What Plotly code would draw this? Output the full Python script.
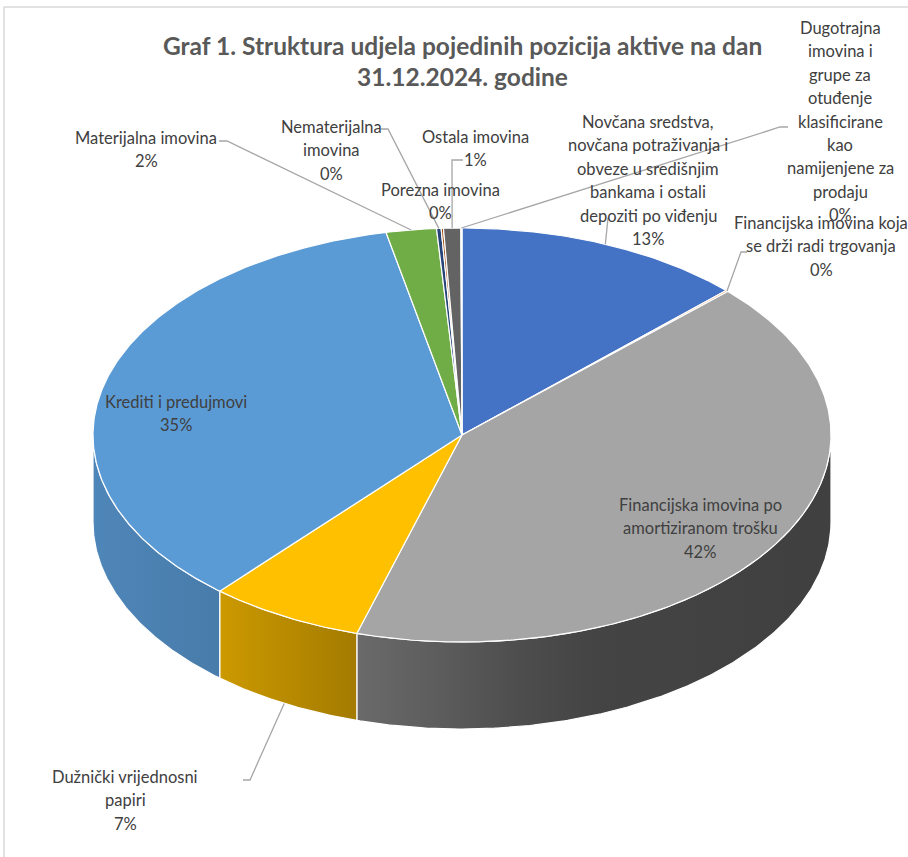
import numpy as np
import plotly.graph_objects as go

# ---------------- data ----------------
categories = [
    "Novčana sredstva, novčana potraživanja i obveze u središnjim bankama i ostali depoziti po viđenju",
    "Financijska imovina koja se drži radi trgovanja",
    "Financijska imovina po amortiziranom trošku",
    "Dužnički vrijednosni papiri",
    "Krediti i predujmovi",
    "Materijalna imovina",
    "Nematerijalna imovina",
    "Porezna imovina",
    "Ostala imovina",
    "Dugotrajna imovina i grupe za otuđenje klasificirane kao namijenjene za prodaju",
]
values = [12.7, 0.1, 41.8, 6.8, 35.3, 2.2, 0.2, 0.1, 0.75, 0.05]
label_lines = [
    ["Novčana sredstva,", "novčana potraživanja i", "obveze u središnjim", "bankama i ostali", "depoziti po viđenju"],
    ["Financijska imovina koja", "se drži radi trgovanja"],
    ["Financijska imovina po", "amortiziranom trošku"],
    ["Dužnički vrijednosni", "papiri"],
    ["Krediti i predujmovi"],
    ["Materijalna imovina"],
    ["Nematerijalna", "imovina"],
    ["Porezna imovina"],
    ["Ostala imovina"],
    ["Dugotrajna", "imovina i", "grupe za", "otuđenje", "klasificirane", "kao", "namijenjene za", "prodaju"],
]
colors = ["#4472C4", "#ED7D31", "#A5A5A5", "#FFC000", "#5B9BD5",
          "#70AD47", "#264478", "#9E480E", "#636363", "#997300"]
title_lines = ["Graf 1. Struktura udjela pojedinih pozicija aktive na dan", "31.12.2024. godine"]

# ---------------- layout / style constants ----------------
W, H = 908, 857
CX, CY, RX, RY, DEPTH = 462, 435, 369, 207, 87
LINE_SP = 23.4
FONT = "Lato, Carlito, 'Liberation Sans', sans-serif"
TXT = "#404040"
LEADER = "#A6A6A6"
# label block positions: (centre x, y of first line)
label_pos = [(648, 122), (821, 223), (700, 505), (125, 777), (176, 402),
             (146, 138), (331, 127), (440, 190), (475, 137), (840, 28)]
# leader line start / elbow points (label side); slice end computed
leaders = {
    5: [(219, 141), (227, 141)],
    6: [(381, 129), (388, 129)],
    8: [(463, 160), (452, 160)],
    0: [(608, 218)],
    9: [(788, 127), (780, 127)],
    1: [(747, 252), (741, 252)],
    3: [(243, 780), (250, 780)],
}
SHADE_X = [93, 220, 360, 470, 560, 830]
SHADE_F = [0.87, 0.80, 0.64, 0.53, 0.42, 0.39]


def hex_rgb(h):
    h = h.lstrip("#")
    return [int(h[i:i + 2], 16) for i in (0, 2, 4)]


def shaded(h, f):
    r, g, b = hex_rgb(h)
    return f"rgb({int(r * f)},{int(g * f)},{int(b * f)})"


def ell(t, dy=0.0):
    return CX + RX * np.sin(t), CY - RY * np.cos(t) + dy


total = sum(values)
fracs = np.array(values) / total
cum = np.concatenate([[0], np.cumsum(fracs)])
pcts = [f"{round(f * 100):.0f}%" for f in fracs]

fig = go.Figure()

# ---- side faces (front half only) ----
for i, c in enumerate(colors):
    t0, t1 = 2 * np.pi * cum[i], 2 * np.pi * cum[i + 1]
    a, b = max(t0, np.pi / 2), min(t1, 3 * np.pi / 2)
    if b <= a:
        continue
    n = max(3, int(np.degrees(b - a) * 2))
    tt = np.linspace(a, b, n)
    xt, yt = ell(tt)
    xb, yb = ell(tt[::-1], DEPTH)
    xs = np.concatenate([xt, xb, xt[:1]])
    ys = np.concatenate([yt, yb, yt[:1]])
    x0, x1 = xs.min(), xs.max()
    stops = np.linspace(0, 1, 7)
    cs = [[float(s), shaded(c, float(np.interp(x0 + s * (x1 - x0), SHADE_X, SHADE_F)))] for s in stops]
    fig.add_trace(go.Scatter(
        x=xs, y=ys, mode="lines", fill="toself",
        fillgradient=dict(type="horizontal", colorscale=cs, start=x0, stop=x1),
        line=dict(color="white", width=1.2), hoverinfo="skip"))

# ---- top faces ----
for i, c in enumerate(colors):
    t0, t1 = 2 * np.pi * cum[i], 2 * np.pi * cum[i + 1]
    n = max(2, int(np.degrees(t1 - t0) * 2))
    tt = np.linspace(t0, t1, n)
    xa, ya = ell(tt)
    xs = np.concatenate([[CX], xa, [CX]])
    ys = np.concatenate([[CY], ya, [CY]])
    fig.add_trace(go.Scatter(
        x=xs, y=ys, mode="lines", fill="toself", fillcolor=c,
        line=dict(color="white", width=1.2), hoverinfo="skip",
        name=categories[i]))

# ---- leader lines ----
for i, pts in leaders.items():
    tm = 2 * np.pi * (cum[i] + cum[i + 1]) / 2
    ex, ey = ell(tm, DEPTH if np.cos(tm) < 0 else 0.0)
    xs = [p[0] for p in pts] + [float(ex)]
    ys = [p[1] for p in pts] + [float(ey)]
    fig.add_trace(go.Scatter(x=xs, y=ys, mode="lines",
                             line=dict(color=LEADER, width=1.3), hoverinfo="skip"))

# ---- labels ----
annotations = []
for i, lines in enumerate(label_lines):
    cx, y0 = label_pos[i]
    for k, s in enumerate(lines + [pcts[i]]):
        annotations.append(dict(x=cx, y=y0 + k * LINE_SP, xref="x", yref="y", text=s,
                                showarrow=False, xanchor="center", yanchor="middle",
                                font=dict(family=FONT, size=16.5, color=TXT)))
for k, s in enumerate(title_lines):
    annotations.append(dict(x=462, y=45 + k * 31, xref="x", yref="y", text=f"<b>{s}</b>",
                            showarrow=False, xanchor="center", yanchor="middle",
                            font=dict(family=FONT, size=24.5, color="#595959")))

shapes = [
    dict(type="line", xref="x", yref="y", x0=4, y0=7, x1=W, y1=7, line=dict(color="#D9D9D9", width=1.5)),
    dict(type="line", xref="x", yref="y", x0=4, y0=7, x1=4, y1=H, line=dict(color="#D9D9D9", width=1.5)),
]

fig.update_layout(
    width=W, height=H, margin=dict(l=0, r=0, t=0, b=0),
    paper_bgcolor="white", plot_bgcolor="white", showlegend=False, hovermode=False,
    xaxis=dict(range=[0, W], visible=False, fixedrange=True),
    yaxis=dict(range=[H, 0], visible=False, fixedrange=True),
    annotations=annotations, shapes=shapes,
)

fig.write_html("out.html", config={"displayModeBar": False},
               post_script="document.body.style.margin='0';")
